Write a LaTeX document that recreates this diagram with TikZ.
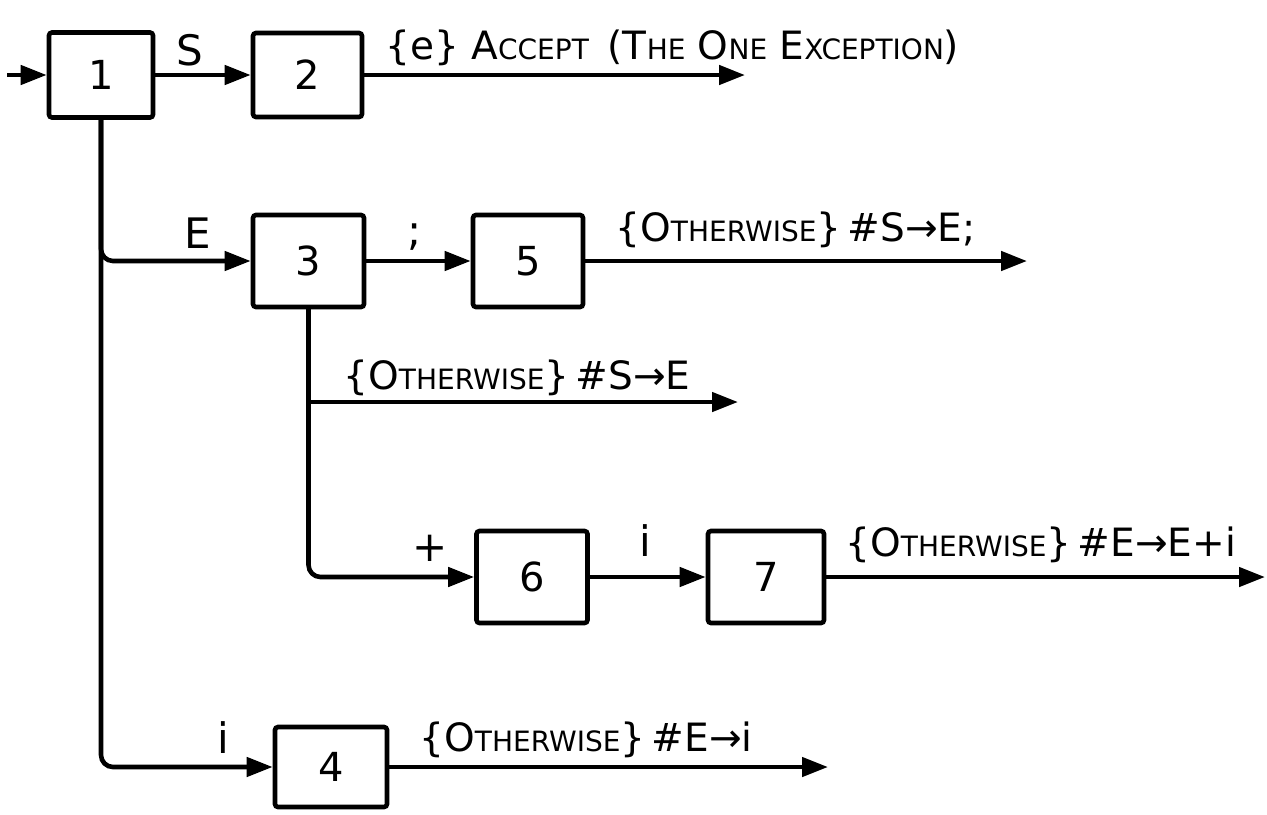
\documentclass[tikz,border=0pt]{standalone}
\usepackage{fontspec}
\setmainfont{DejaVu Sans}
\usetikzlibrary{arrows.meta}
\newcommand{\smc}[2]{#1{\fontsize{14}{16}\selectfont #2}}
\newcommand{\othw}{\{\smc{O}{THERWISE}\}}
\tikzset{
  box/.style={draw, line width=2.3pt, rounded corners=1.5pt, inner sep=0pt, font=\fontsize{20}{24}\selectfont},
  arr/.style={line width=2.3pt, -{Triangle[length=13pt,width=9.5pt]}},
  lbl/.style={inner sep=0pt, font=\fontsize{21}{24}\selectfont},
  txt/.style={anchor=west, inner sep=0pt, font=\fontsize{19.5}{23}\selectfont},
}
\begin{document}
\begin{tikzpicture}[x=0.5pt,y=-0.5pt]
\useasboundingbox (0,0) rectangle (1267,814);
% boxes
\node[box, minimum width=52pt, minimum height=42.5pt] (b1) at (101,75) {1};
\node[box, minimum width=54.5pt, minimum height=42pt] (b2) at (307.5,75) {2};
\node[box, minimum width=55.5pt, minimum height=46pt] (b3) at (308.5,261) {3};
\node[box, minimum width=55pt, minimum height=46pt] (b5) at (528,261) {5};
\node[box, minimum width=55.5pt, minimum height=46pt] (b6) at (532,577) {6};
\node[box, minimum width=58pt, minimum height=46pt] (b7) at (766,577) {7};
\node[box, minimum width=56pt, minimum height=40pt] (b4) at (331,767) {4};
% free ends
\coordinate (start) at (7,75);
\coordinate (e2) at (745,75);
\coordinate (e5) at (1027,261);
\coordinate (e3) at (738,402);
\coordinate (e7) at (1265,577);
\coordinate (e4) at (828,767);
% connectors
\draw[arr] (start) -- (b1.west);
\draw[arr] (b1.east) -- (b2.west);
\draw[arr] (b2.east) -- (e2);
\draw[arr, rounded corners=6pt] (b1.south) |- (b3.west);
\draw[arr, rounded corners=6pt] (b1.south) |- (b4.west);
\draw[arr] (b3.east) -- (b5.west);
\draw[arr] (b5.east) -- (e5);
\draw[arr] (b3.south) |- (e3);
\draw[arr, rounded corners=6pt] (b3.south) |- (b6.west);
\draw[arr] (b6.east) -- (b7.west);
\draw[arr] (b7.east) -- (e7);
\draw[arr] (b4.east) -- (e4);
% edge labels
\node[lbl] (lS) at (190,50) {S};
\node[lbl] (lE) at (198,233) {E};
\node[lbl] (lsemi) at (415,237) {;};
\node[lbl] (lplus) at (430,548) {+};
\node[lbl] (li67) at (645,541) {i};
\node[lbl] (li4) at (223,738) {i};
% long labels
\node[txt] (t2) at (385,48) {\{e\} \smc{A}{CCEPT} \,(\smc{T}{HE} \smc{O}{NE} \smc{E}{XCEPTION})};
\node[txt] (t5) at (615,230) {\othw\,\#S→E;};
\node[txt] (t3) at (343,378) {\othw\,\#S→E};
\node[txt] (t7) at (845,545) {\othw\,\#E→E+i};
\node[txt] (t4) at (419,740) {\othw\,\#E→i};
\end{tikzpicture}
\end{document}
